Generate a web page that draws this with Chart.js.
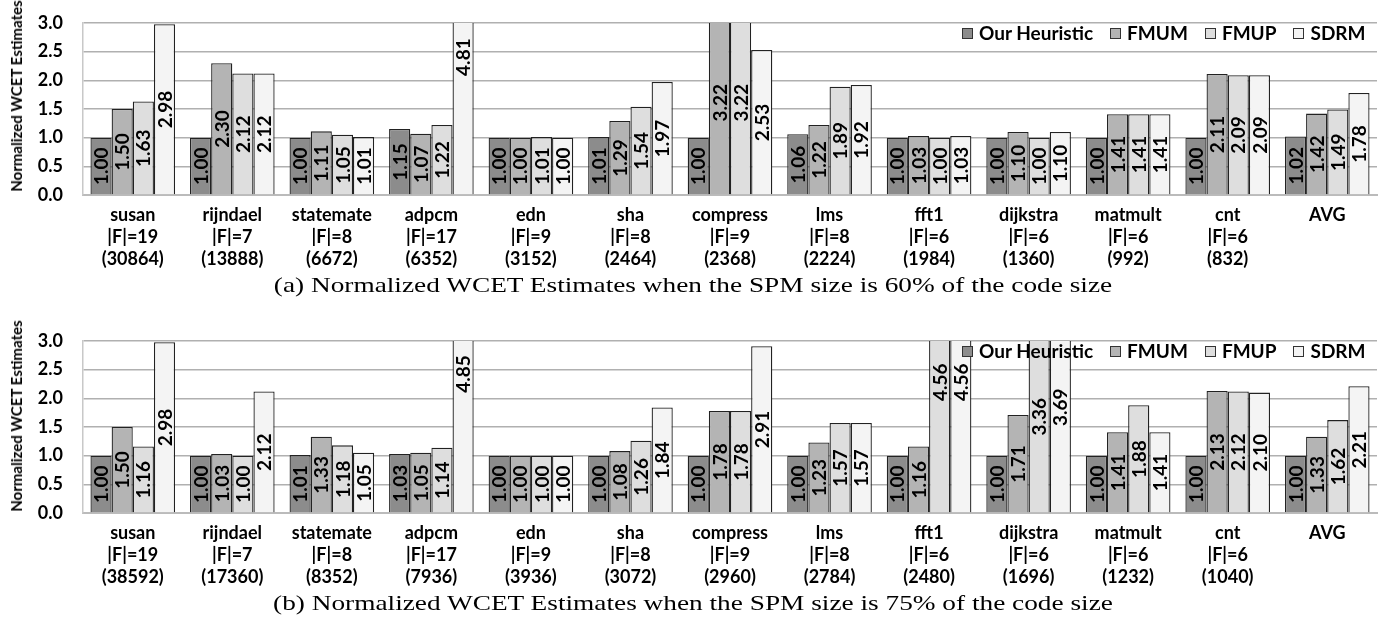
<!DOCTYPE html>
<html>
<head>
<meta charset="utf-8">
<script src="https://cdn.jsdelivr.net/npm/chart.js@4.4.1/dist/chart.umd.min.js"></script>
<style>
  body { margin: 0; background: #fff; width: 1386px; height: 637px; position: relative; overflow: hidden; }
  .panel { position: absolute; left: 0; width: 1386px; height: 279px; }
  .caption { position: absolute; left: 0; width: 1386px; text-align: center; font-family: 'Liberation Serif', serif; font-size: 21px; color: #000; line-height: 22px; transform: scaleX(1.3); transform-origin: 693px 0; }
  .legend { position: absolute; left: 962px; display: flex; white-space: nowrap; font-family: Lato, sans-serif; font-weight: bold; font-size: 19px; color: #000; line-height: 22px; }
  .legend span.item { display: flex; align-items: center; margin-right: 17px; }
  .legend span.box { width: 9px; height: 9px; border: 1px solid #333; margin-right: 6px; }
  .ytitle { position: absolute; left: 16px; width: 0; height: 0; }
  .ytitle span { position: absolute; white-space: nowrap; transform: translate(-50%, -50%) rotate(-90deg); font-family: Lato, sans-serif; font-weight: bold; font-size: 15px; color: #000; }
</style>
</head>
<body>
<div class="panel" style="top:0"><canvas id="chartA"></canvas></div>
<div class="ytitle" style="top:96px"><span>Normalized WCET Estimates</span></div>
<div class="legend" id="legendA" style="top:22px"></div>
<div class="caption" style="top:274px">(a) Normalized WCET Estimates when the SPM size is 60% of the code size</div>
<div class="panel" style="top:318px"><canvas id="chartB"></canvas></div>
<div class="ytitle" style="top:416px"><span>Normalized WCET Estimates</span></div>
<div class="legend" id="legendB" style="top:340px"></div>
<div class="caption" style="top:592px">(b) Normalized WCET Estimates when the SPM size is 75% of the code size</div>
<script>
// benchmarks and their function counts
const benchmarks = ['susan', 'rijndael', 'statemate', 'adpcm', 'edn', 'sha', 'compress', 'lms', 'fft1', 'dijkstra', 'matmult', 'cnt', 'AVG'];
const funcCounts = ['19', '7', '8', '17', '9', '8', '9', '8', '6', '6', '6', '6', ''];
const spmSizesA = ['30864', '13888', '6672', '6352', '3152', '2464', '2368', '2224', '1984', '1360', '992', '832', ''];
const spmSizesB = ['38592', '17360', '8352', '7936', '3936', '3072', '2960', '2784', '2480', '1696', '1232', '1040', ''];

const seriesNames = ['Our Heuristic', 'FMUM', 'FMUP', 'SDRM'];
const seriesColors = ['#8c8c8c', '#b4b4b4', '#dedede', '#f4f4f4'];

// (a) SPM = 60% of code size
const heuristicA = [1.00, 1.00, 1.00, 1.15, 1.00, 1.01, 1.00, 1.06, 1.00, 1.00, 1.00, 1.00, 1.02];
const fmumA      = [1.50, 2.30, 1.11, 1.07, 1.00, 1.29, 3.22, 1.22, 1.03, 1.10, 1.41, 2.11, 1.42];
const fmupA      = [1.63, 2.12, 1.05, 1.22, 1.01, 1.54, 3.22, 1.89, 1.00, 1.00, 1.41, 2.09, 1.49];
const sdrmA      = [2.98, 2.12, 1.01, 4.81, 1.00, 1.97, 2.53, 1.92, 1.03, 1.10, 1.41, 2.09, 1.78];

// (b) SPM = 75% of code size
const heuristicB = [1.00, 1.00, 1.01, 1.03, 1.00, 1.00, 1.00, 1.00, 1.00, 1.00, 1.00, 1.00, 1.00];
const fmumB      = [1.50, 1.03, 1.33, 1.05, 1.00, 1.08, 1.78, 1.23, 1.16, 1.71, 1.41, 2.13, 1.33];
const fmupB      = [1.16, 1.00, 1.18, 1.14, 1.00, 1.26, 1.78, 1.57, 4.56, 3.36, 1.88, 2.12, 1.62];
const sdrmB      = [2.98, 2.12, 1.05, 4.85, 1.00, 1.84, 2.91, 1.57, 4.56, 3.69, 1.41, 2.10, 2.21];

const yTicks = [0, 0.5, 1, 1.5, 2, 2.5, 3];
const FONT = 'Lato, sans-serif';

function makeLabels(sizes) {
    return benchmarks.map((b, i) => funcCounts[i] ? [b, '|F|=' + funcCounts[i], '(' + sizes[i] + ')'] : [b]);
}

// value labels, rotated, centred on the full (unclipped) bar
const barValues = {
    id: 'barValues',
    afterDatasetsDraw(chart) {
        const ctx = chart.ctx;
        const y = chart.scales.y;
        ctx.save();
        ctx.font = 'bold 19px ' + FONT;
        ctx.fillStyle = '#000';
        ctx.textAlign = 'center';
        ctx.textBaseline = 'middle';
        chart.data.datasets.forEach((ds, di) => {
            chart.getDatasetMeta(di).data.forEach((bar, i) => {
                const v = ds.data[i];
                ctx.save();
                ctx.translate(bar.x + 1, y.getPixelForValue(v / 2));
                ctx.rotate(-Math.PI / 2);
                ctx.fillText(v.toFixed(2), 0, 0);
                ctx.restore();
            });
        });
        ctx.restore();
    }
};

function buildLegend(id) {
    const el = document.getElementById(id);
    seriesNames.forEach((n, i) => {
        const item = document.createElement('span');
        item.className = 'item';
        item.innerHTML = '<span class="box" style="background:' + seriesColors[i] + '"></span>' + n;
        el.appendChild(item);
    });
}

function renderPanel(canvasId, sizes, series) {
    new Chart(document.getElementById(canvasId), {
        type: 'bar',
        data: {
            labels: makeLabels(sizes),
            datasets: series.map((d, i) => ({
                label: seriesNames[i], data: d,
                backgroundColor: seriesColors[i], borderColor: '#222', borderWidth: 1.3,
                categoryPercentage: 0.85, barPercentage: 1.0
            }))
        },
        options: {
            responsive: true, maintainAspectRatio: false, animation: false,
            layout: { padding: { top: 23, right: 9, left: 0, bottom: 0 } },
            plugins: { legend: { display: false }, tooltip: { enabled: false } },
            scales: {
                x: {
                    grid: { display: false, drawTicks: false },
                    border: { color: '#bbb', width: 2 },
                    ticks: { color: '#000', font: { family: FONT, size: 18, weight: 'bold', lineHeight: '22px' }, padding: 9, maxRotation: 0, autoSkip: false }
                },
                y: {
                    min: 0, max: 3,
                    afterBuildTicks: s => { s.ticks = yTicks.map(v => ({ value: v })); },
                    afterFit: s => { s.width = 83; s.paddingTop = 0; s.paddingBottom = 0; },
                    grid: { color: '#b0b0b0', lineWidth: 1.5, drawTicks: false },
                    border: { color: '#c8c8c8', width: 1.5 },
                    ticks: { color: '#000', padding: 20, font: { family: FONT, size: 18, weight: 'bold' }, callback: v => v.toFixed(1) }
                }
            }
        },
        plugins: [barValues]
    });
}

renderPanel('chartA', spmSizesA, [heuristicA, fmumA, fmupA, sdrmA]);
renderPanel('chartB', spmSizesB, [heuristicB, fmumB, fmupB, sdrmB]);
buildLegend('legendA');
buildLegend('legendB');
</script>
</body>
</html>
